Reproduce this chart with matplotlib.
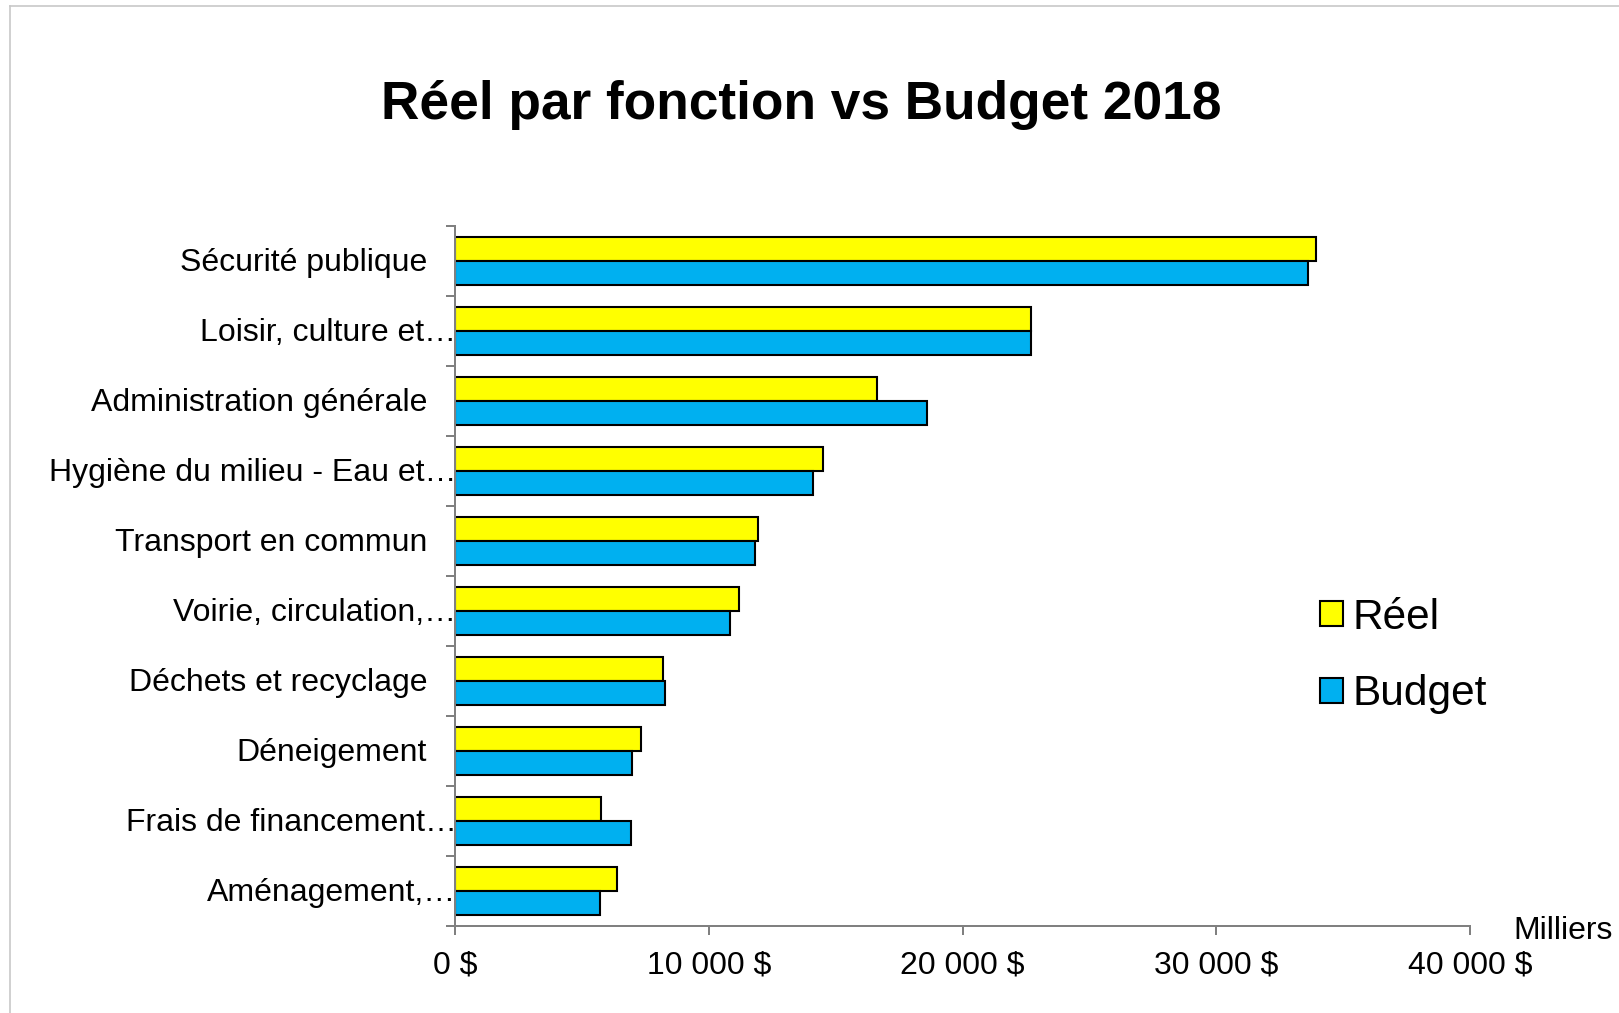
import matplotlib
matplotlib.use("Agg")
import matplotlib.pyplot as plt
import numpy as np
from matplotlib.transforms import offset_copy
from matplotlib.lines import Line2D

plt.rcParams['font.family'] = ['Liberation Sans', 'DejaVu Sans']

categories = [
    "Sécurité publique",
    "Loisir, culture et…",
    "Administration générale",
    "Hygiène du milieu - Eau et…",
    "Transport en commun",
    "Voirie, circulation,…",
    "Déchets et recyclage",
    "Déneigement",
    "Frais de financement…",
    "Aménagement,…",
]
truncated = [False, True, False, True, False, True, False, False, True, True]
reel = [33950, 22690, 16650, 14520, 11940, 11200, 8210, 7330, 5770, 6380]
budget = [33620, 22690, 18590, 14110, 11810, 10830, 8260, 6990, 6940, 5720]
xticks = [0, 10000, 20000, 30000, 40000]
xticklabels = ["0 $", "10 000 $", "20 000 $", "30 000 $", "40 000 $"]
series_names = ["Réel", "Budget"]
title = "Réel par fonction vs Budget 2018"
unit_label = "Milliers"

W, H = 1619, 1013
fig = plt.figure(figsize=(W / 100, H / 100), dpi=100)
fig.patch.set_facecolor("white")

ax_l, ax_r, ax_t, ax_b = 455, 1470, 226, 926
ax = fig.add_axes([ax_l / W, 1 - ax_b / H, (ax_r - ax_l) / W, (ax_b - ax_t) / H])

grey = "#808080"
y = np.arange(len(categories))
bh = 0.347
b1 = ax.barh(y - bh / 2, reel, height=bh, color="#FFFF00", edgecolor="black",
             linewidth=1.5, label=series_names[0], zorder=3)
b2 = ax.barh(y + bh / 2, budget, height=bh, color="#00B0F0", edgecolor="black",
             linewidth=1.5, label=series_names[1], zorder=3)

ax.set_xlim(0, 40000)
ax.set_ylim(len(categories) - 0.5, -0.5)
ax.set_xticks(xticks)
ax.set_xticklabels(xticklabels, fontsize=23)
ax.set_yticks(np.arange(-0.5, len(categories), 1))
ax.set_yticklabels([])
ax.tick_params(axis="both", direction="out", length=6.5, width=1.44, color=grey)
ax.tick_params(axis="x", pad=11)
for s in ["top", "right"]:
    ax.spines[s].set_visible(False)
for s in ["left", "bottom"]:
    ax.spines[s].set_color(grey)
    ax.spines[s].set_linewidth(1.44)
ax.spines["left"].set_zorder(4)

base = ax.get_yaxis_transform()
for i, (lab, tr) in enumerate(zip(categories, truncated)):
    dx = 1.5 if tr else -28
    t = offset_copy(base, fig=fig, x=dx, y=-9.8, units="dots")
    ax.text(0, i, lab, transform=t, ha="right", va="baseline", fontsize=23,
            color="black", zorder=5, clip_on=False)

fig.text(801 / W, 1 - 119.5 / H, title, ha="center", va="baseline",
         fontsize=38.3, fontweight="bold")
fig.text(1513 / W, 1 - 939 / H, unit_label, ha="left", va="baseline", fontsize=23)

leg = fig.legend(handles=[b1, b2], loc="center left",
                 bbox_to_anchor=(1320 / W, 1 - 656 / H), frameon=False,
                 fontsize=30.5, handlelength=0.54, handleheight=0.54,
                 handletextpad=0.22, labelspacing=0.87, borderpad=0, borderaxespad=0)

# outer chart border (top and left edges visible)
fig.add_artist(Line2D([10 / W, 1], [1 - 6 / H, 1 - 6 / H], color="#C8C8C8", linewidth=1.2))
fig.add_artist(Line2D([10 / W, 10 / W], [0, 1 - 6 / H], color="#C8C8C8", linewidth=1.2))

fig.savefig("out.png", dpi=100, facecolor="white")
